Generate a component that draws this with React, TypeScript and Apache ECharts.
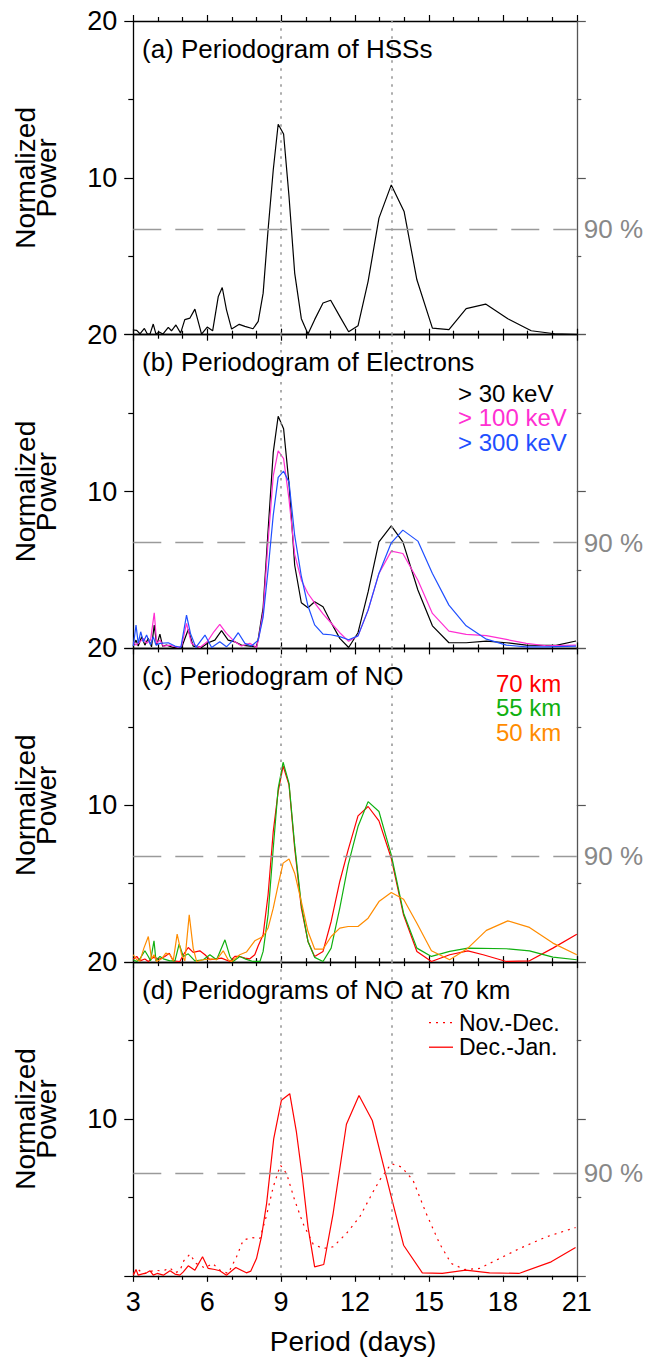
import React, { useEffect, useRef } from 'react';
import * as echarts from 'echarts';

// ---------------- data ----------------
const panelTitles = [
  '(a) Periodogram of HSSs',
  '(b) Periodogram of Electrons',
  '(c) Periodogram of NO',
  '(d) Peridograms of NO at 70 km',
];
const xTickValues = [3, 6, 9, 12, 15, 18, 21];
const yTickValues = [0, 10, 20];
const markerPeriods = [9, 13.5];
const threshold90 = [6.75, 6.75, 6.75, 6.53];

// (a) HSSs
const hss = [[3.0,0.3],[3.14,0.28],[3.27,0.06],[3.45,0.4],[3.57,0.04],[3.68,0.05],[3.81,0.68],[3.92,0.04],[4.05,0.17],[4.2,0.04],[4.42,0.47],[4.55,0.25],[4.73,0.62],[4.92,0.1],[5.09,0.96],[5.3,1.06],[5.5,1.63],[5.77,0.04],[6.0,0.49],[6.22,0.25],[6.45,2.44],[6.61,3.01],[6.78,1.6],[6.99,0.36],[7.3,0.66],[7.53,0.53],[7.86,0.38],[8.07,0.85],[8.27,2.65],[8.47,6.69],[8.68,10.5],[8.88,13.42],[9.1,12.8],[9.32,8.81],[9.55,3.93],[9.82,1.02],[10.09,0.04],[10.36,0.96],[10.7,2.02],[11.01,2.2],[11.38,1.17],[11.74,0.19],[12.12,0.57],[12.53,3.4],[12.97,7.43],[13.47,9.55],[13.99,7.86],[14.51,3.5],[15.14,0.42],[15.81,0.32],[16.51,1.66],[17.3,1.95],[18.2,1.02],[19.15,0.25],[20.1,0.06],[21.0,0.0]];

// (b) electrons
const e30 = [[3.0,0.15],[3.11,0.53],[3.2,0.15],[3.34,0.74],[3.47,0.21],[3.61,0.64],[3.74,0.1],[3.85,1.49],[3.95,0.21],[4.08,0.91],[4.19,0.15],[4.35,0.21],[4.62,0.06],[4.96,0.06],[5.23,1.21],[5.43,0.15],[5.77,0.06],[6.04,0.36],[6.31,0.53],[6.58,1.13],[6.85,0.53],[7.12,0.42],[7.39,0.21],[7.73,0.15],[8.0,0.1],[8.07,0.6],[8.27,2.6],[8.47,7.5],[8.68,12.5],[8.88,14.8],[9.1,14.0],[9.32,10.5],[9.55,5.3],[9.82,2.91],[10.09,2.59],[10.36,2.97],[10.7,2.65],[11.01,1.7],[11.38,0.64],[11.74,0.06],[12.12,1.0],[12.53,3.6],[12.97,6.79],[13.47,7.81],[13.94,6.79],[14.55,3.72],[15.14,1.44],[15.81,0.36],[16.51,0.36],[17.33,0.47],[18.14,0.36],[18.95,0.21],[20.16,0.19],[20.97,0.47]];
const e100 = [[3.0,0.42],[3.11,0.21],[3.27,0.42],[3.41,0.64],[3.54,0.32],[3.7,0.53],[3.85,2.27],[3.95,0.32],[4.08,0.53],[4.22,0.15],[4.49,0.21],[4.82,0.06],[4.96,0.15],[5.16,1.59],[5.36,0.32],[5.7,0.06],[6.0,0.42],[6.27,1.06],[6.51,1.53],[6.78,0.96],[7.12,0.42],[7.39,0.15],[7.73,0.32],[8.0,0.06],[8.07,0.5],[8.27,2.3],[8.47,6.8],[8.68,11.0],[8.88,12.6],[9.1,12.1],[9.32,9.5],[9.55,6.0],[9.82,4.35],[10.09,3.5],[10.36,2.9],[10.7,2.2],[11.01,1.65],[11.38,1.0],[11.74,0.45],[12.12,0.8],[12.53,2.44],[12.97,4.78],[13.47,6.2],[13.94,6.05],[14.55,4.35],[15.14,2.23],[15.81,1.1],[16.51,0.89],[17.33,0.81],[18.14,0.57],[18.95,0.32],[19.76,0.17],[20.97,0.21]];
const e300 = [[3.0,0.15],[3.11,1.49],[3.2,0.32],[3.3,1.06],[3.41,0.42],[3.54,0.85],[3.7,0.21],[3.81,0.74],[3.92,0.21],[4.08,0.32],[4.42,0.36],[4.69,0.15],[4.93,0.06],[5.16,2.12],[5.32,0.96],[5.54,0.06],[5.91,0.85],[6.18,0.06],[6.51,0.42],[6.78,0.1],[7.05,0.53],[7.26,1.0],[7.53,0.32],[7.8,0.15],[8.07,0.53],[8.27,2.0],[8.47,5.0],[8.68,8.5],[8.88,10.9],[9.1,11.3],[9.32,10.6],[9.55,7.2],[9.82,4.6],[10.09,2.7],[10.36,1.5],[10.7,0.91],[11.01,0.87],[11.38,0.75],[11.74,0.55],[12.12,0.8],[12.53,2.44],[12.97,4.78],[13.47,6.73],[13.94,7.54],[14.55,6.84],[15.14,4.78],[15.81,2.76],[16.51,1.44],[17.33,0.59],[18.14,0.21],[18.95,0.1],[19.76,0.1],[20.97,0.15]];

// (c) NO at three altitudes
const no70 = [[3.0,0.2],[3.14,0.36],[3.27,0.08],[3.47,0.2],[3.61,0.04],[3.81,0.3],[4.08,0.2],[4.28,0.36],[4.46,0.57],[4.62,0.08],[4.89,0.04],[5.03,0.47],[5.23,0.93],[5.43,0.62],[5.7,0.72],[5.91,0.47],[6.11,0.15],[6.38,0.21],[6.58,0.25],[6.92,0.04],[7.12,0.36],[7.32,0.36],[7.53,0.25],[7.73,0.21],[7.93,0.47],[8.07,1.04],[8.27,1.74],[8.47,4.29],[8.68,8.32],[8.88,10.87],[9.08,12.5],[9.32,11.3],[9.55,7.26],[9.82,3.44],[10.09,1.32],[10.36,0.36],[10.7,0.68],[11.03,2.59],[11.38,5.14],[11.72,7.15],[12.12,9.32],[12.53,9.92],[12.97,9.0],[13.47,6.62],[13.97,3.0],[14.51,0.68],[15.1,0.04],[15.84,0.47],[16.58,0.72],[17.2,0.47],[18.14,0.04],[19.08,0.08],[20.03,0.89],[21.0,1.78]];
const no55 = [[3.0,0.15],[3.14,0.04],[3.27,0.21],[3.47,0.72],[3.61,0.36],[3.7,0.08],[3.84,1.36],[3.92,0.08],[4.08,0.36],[4.22,0.21],[4.49,0.08],[4.69,0.08],[4.86,1.15],[5.03,0.36],[5.23,0.53],[5.5,0.08],[5.84,0.15],[6.11,0.47],[6.38,0.15],[6.72,1.42],[6.92,0.36],[7.05,0.04],[7.32,0.36],[7.53,0.21],[7.86,0.04],[8.14,0.04],[8.27,0.68],[8.47,3.01],[8.68,7.26],[8.88,11.08],[9.08,12.74],[9.32,11.4],[9.55,7.47],[9.82,3.65],[10.09,1.32],[10.36,0.3],[10.7,0.04],[11.03,0.89],[11.38,3.44],[11.72,6.2],[12.12,8.64],[12.53,10.23],[12.97,9.6],[13.47,6.84],[13.97,3.12],[14.51,0.89],[15.1,0.36],[15.84,0.68],[16.58,0.89],[18.14,0.85],[19.08,0.72],[20.03,0.32],[21.0,0.15]];
const no50 = [[3.0,0.47],[3.14,0.15],[3.27,0.08],[3.43,0.89],[3.61,1.63],[3.74,0.21],[3.84,0.47],[3.95,0.04],[4.15,0.21],[4.32,0.57],[4.49,0.47],[4.62,0.08],[4.78,1.78],[4.96,0.47],[5.09,0.08],[5.27,3.01],[5.43,0.89],[5.57,0.04],[5.84,0.15],[6.18,0.21],[6.38,0.15],[6.65,0.72],[6.85,0.15],[6.99,0.04],[7.32,0.47],[7.59,0.64],[7.93,1.36],[8.27,1.63],[8.47,2.17],[8.68,3.44],[8.88,4.93],[9.08,6.31],[9.32,6.58],[9.55,5.67],[9.82,3.86],[10.09,1.95],[10.36,0.83],[10.7,0.83],[11.03,1.63],[11.38,2.17],[11.72,2.27],[12.12,2.27],[12.53,2.8],[12.97,3.86],[13.47,4.44],[13.97,4.01],[14.51,2.48],[15.1,0.72],[15.84,0.15],[16.58,0.89],[17.33,2.02],[18.2,2.63],[19.08,2.21],[20.03,1.21],[21.0,0.47]];

// (d) NO at 70 km, two windows
const novDec = [[3.0,0.15],[3.2,0.4],[3.41,0.11],[3.65,0.25],[3.88,0.36],[4.08,0.32],[4.28,0.36],[4.49,0.5],[4.69,0.19],[4.89,0.32],[5.05,0.96],[5.3,1.38],[5.54,0.79],[5.91,0.5],[6.22,0.79],[6.51,0.36],[6.85,0.15],[7.19,1.21],[7.46,2.27],[7.8,2.44],[8.14,2.38],[8.41,3.86],[8.68,5.67],[8.97,7.05],[9.22,6.52],[9.55,4.82],[9.89,3.33],[10.3,2.02],[10.7,1.74],[11.11,1.85],[11.65,2.7],[12.19,3.76],[12.73,5.35],[13.0,6.1],[13.47,7.15],[13.88,6.94],[14.35,6.1],[14.89,3.97],[15.43,2.06],[15.9,0.79],[16.45,0.4],[17.05,0.47],[17.86,1.1],[18.68,1.74],[19.76,2.48],[20.95,3.08]];
const decJan = [[3.0,0.04],[3.11,0.4],[3.2,0.04],[3.34,0.11],[3.54,0.19],[3.68,0.32],[3.81,0.04],[3.97,0.15],[4.22,0.04],[4.49,0.32],[4.69,0.11],[4.89,0.04],[5.03,0.25],[5.23,0.64],[5.5,0.36],[5.81,1.21],[6.04,0.47],[6.31,0.4],[6.51,0.32],[6.78,0.04],[7.16,0.53],[7.59,0.19],[7.77,0.3],[8.0,1.1],[8.2,2.48],[8.41,4.6],[8.7,8.75],[9.01,11.19],[9.35,11.61],[9.62,9.17],[9.86,6.3],[10.09,3.12],[10.36,0.57],[10.73,0.72],[11.11,3.97],[11.65,9.66],[12.16,11.5],[12.7,9.9],[13.0,8.0],[13.47,5.03],[13.97,1.95],[14.73,0.19],[15.54,0.15],[16.49,0.36],[17.46,0.19],[18.65,0.15],[19.96,0.89],[20.95,1.8]];

const panelSeries = [
  [{ name: 'HSSs', data: hss, color: '#000000', dash: 'solid' }],
  [
    { name: '> 30 keV', data: e30, color: '#000000', dash: 'solid' },
    { name: '> 100 keV', data: e100, color: '#ff2fd2', dash: 'solid' },
    { name: '> 300 keV', data: e300, color: '#1f4fff', dash: 'solid' },
  ],
  [
    { name: '70 km', data: no70, color: '#ff0000', dash: 'solid' },
    { name: '55 km', data: no55, color: '#10b010', dash: 'solid' },
    { name: '50 km', data: no50, color: '#ff8c00', dash: 'solid' },
  ],
  [
    { name: 'Nov.-Dec.', data: novDec, color: '#ff0000', dash: 'dotted' },
    { name: 'Dec.-Jan.', data: decJan, color: '#ff0000', dash: 'solid' },
  ],
];

// ---------------- layout ----------------
const W = 648;
const H = 1359;
const FONT = '"Liberation Sans", Arial, Helvetica, sans-serif';
const GRID_LEFT = 133.3;
const GRID_W = 443.5;
const TOP = 21;
const PANEL_H = 313.7;

function buildOption() {
  const grids: any[] = [];
  const xAxes: any[] = [];
  const yAxes: any[] = [];
  const series: any[] = [];
  const graphics: any[] = [];

  panelTitles.forEach((title, i) => {
    const top = TOP + i * PANEL_H;
    grids.push({ left: GRID_LEFT, top, width: GRID_W, height: PANEL_H, containLabel: false });
    const tickStyle = { color: '#000', width: 1.2 };
    const xBase = {
      type: 'value', gridIndex: i, min: xTickValues[0], max: xTickValues[xTickValues.length - 1], interval: 3,
      splitLine: { show: false }, minorSplitLine: { show: false },
      axisLine: { show: true, onZero: false, lineStyle: { color: '#000', width: 1.3 } },
      axisTick: { show: true, inside: false, length: 6, lineStyle: tickStyle },
      minorTick: { show: true, splitNumber: 3, length: 4, lineStyle: tickStyle },
    };
    xAxes.push({
      ...xBase, position: 'bottom',
      axisLabel: { show: i === 3, fontSize: 27, fontFamily: FONT, color: '#000', margin: 13 },
    });
    xAxes.push({ ...xBase, position: 'top', axisLabel: { show: false } });
    const yBase = {
      type: 'value', gridIndex: i, min: yTickValues[0], max: yTickValues[yTickValues.length - 1], interval: 10,
      splitLine: { show: false }, minorSplitLine: { show: false },
    };
    yAxes.push({
      ...yBase, position: 'left',
      axisLine: { show: true, onZero: false, lineStyle: { color: '#000', width: 1.3 } },
      axisTick: { show: true, inside: false, length: 9, lineStyle: tickStyle },
      minorTick: { show: true, splitNumber: 2, length: 5, lineStyle: tickStyle },
      axisLabel: {
        show: true, fontSize: 27, fontFamily: FONT, color: '#000', margin: 16,
        formatter: (v: number) => (v === 0 ? '' : String(v)),
      },
    });
    yAxes.push({
      ...yBase, position: 'right',
      axisLine: { show: true, onZero: false, lineStyle: { color: '#555', width: 1.3 } },
      axisTick: { show: true, inside: false, length: 9, lineStyle: { color: '#555', width: 1.2 } },
      minorTick: { show: true, splitNumber: 2, length: 4.5, lineStyle: { color: '#555', width: 1.2 } },
      axisLabel: { show: false },
    });

    panelSeries[i].forEach((s, k) => {
      const ser: any = {
        type: 'line', name: s.name, xAxisIndex: 2 * i, yAxisIndex: 2 * i,
        data: s.data, symbol: 'none', showSymbol: false, clip: true,
        lineStyle: { color: s.color, width: 1.2, type: s.dash === 'dotted' ? [2, 5] : 'solid' },
        itemStyle: { color: s.color }, z: 3 + k,
      };
      if (k === 0) {
        ser.markLine = {
          silent: true, symbol: ['none', 'none'], animation: false,
          label: { show: false },
          data: [
            ...markerPeriods.map((p) => ({
              xAxis: p, lineStyle: { color: '#999', width: 1.6, type: [2.5, 5.5] },
            })),
            {
              yAxis: threshold90[i],
              lineStyle: { color: '#9a9a9a', width: 1.4, type: [28, 14] },
              label: {
                show: true, position: 'end', formatter: '90 %', distance: 7,
                fontSize: 26, fontFamily: FONT, color: '#888',
              },
            },
          ],
        };
      }
      series.push(ser);
    });

    // panel title
    graphics.push({
      type: 'text', x: 142, y: top + 27.5, z: 10,
      style: { text: title, font: `26px ${FONT}`, fill: '#000', align: 'left', verticalAlign: 'middle' },
    });
    // y axis name
    graphics.push({
      type: 'text', x: 36, y: top + PANEL_H / 2, rotation: Math.PI / 2, z: 10,
      style: {
        text: 'Normalized\nPower', font: `28px ${FONT}`, lineHeight: 21, fill: '#000',
        align: 'center', verticalAlign: 'middle',
      },
    });
  });

  // legends
  const legB = panelSeries[1];
  legB.forEach((s, k) => {
    graphics.push({
      type: 'text', x: 458, y: TOP + PANEL_H + 58.5 + k * 24.7, z: 10,
      style: { text: s.name, font: `24px ${FONT}`, lineHeight: 22, fill: s.color, align: 'left', verticalAlign: 'middle' },
    });
  });
  const legC = panelSeries[2];
  legC.forEach((s, k) => {
    graphics.push({
      type: 'text', x: 496, y: TOP + 2 * PANEL_H + 35 + k * 24.5, z: 10,
      style: { text: s.name, font: `24px ${FONT}`, lineHeight: 22, fill: s.color, align: 'left', verticalAlign: 'middle' },
    });
  });
  const legD = panelSeries[3];
  legD.forEach((s, k) => {
    const y = TOP + 3 * PANEL_H + 60.5 + k * 24.6;
    graphics.push({
      type: 'line', z: 10,
      shape: { x1: 429, y1: y, x2: 453, y2: y },
      style: { stroke: s.color, lineWidth: 1.3, lineDash: s.dash === 'dotted' ? [2, 5] : null },
    });
    graphics.push({
      type: 'text', x: 459, y, z: 10,
      style: { text: s.name, font: `23px ${FONT}`, lineHeight: 21, fill: '#000', align: 'left', verticalAlign: 'middle' },
    });
  });

  // x axis name
  graphics.push({
    type: 'text', x: GRID_LEFT + GRID_W / 2 - 2, y: 1341, z: 10,
    style: { text: 'Period (days)', font: `28px ${FONT}`, fill: '#000', align: 'center', verticalAlign: 'middle' },
  });

  return {
    animation: false,
    backgroundColor: '#ffffff',
    grid: grids,
    xAxis: xAxes,
    yAxis: yAxes,
    series,
    graphic: graphics,
  };
}

export default function App() {
  const ref = useRef<HTMLDivElement>(null);
  useEffect(() => {
    if (!ref.current) return;
    const chart = echarts.init(ref.current, null, { renderer: 'svg' });
    chart.setOption(buildOption() as any);
    return () => chart.dispose();
  }, []);
  return (
    <div
      ref={ref}
      style={{ position: 'absolute', left: 0, top: 0, width: W, height: H, background: '#fff' }}
    />
  );
}
